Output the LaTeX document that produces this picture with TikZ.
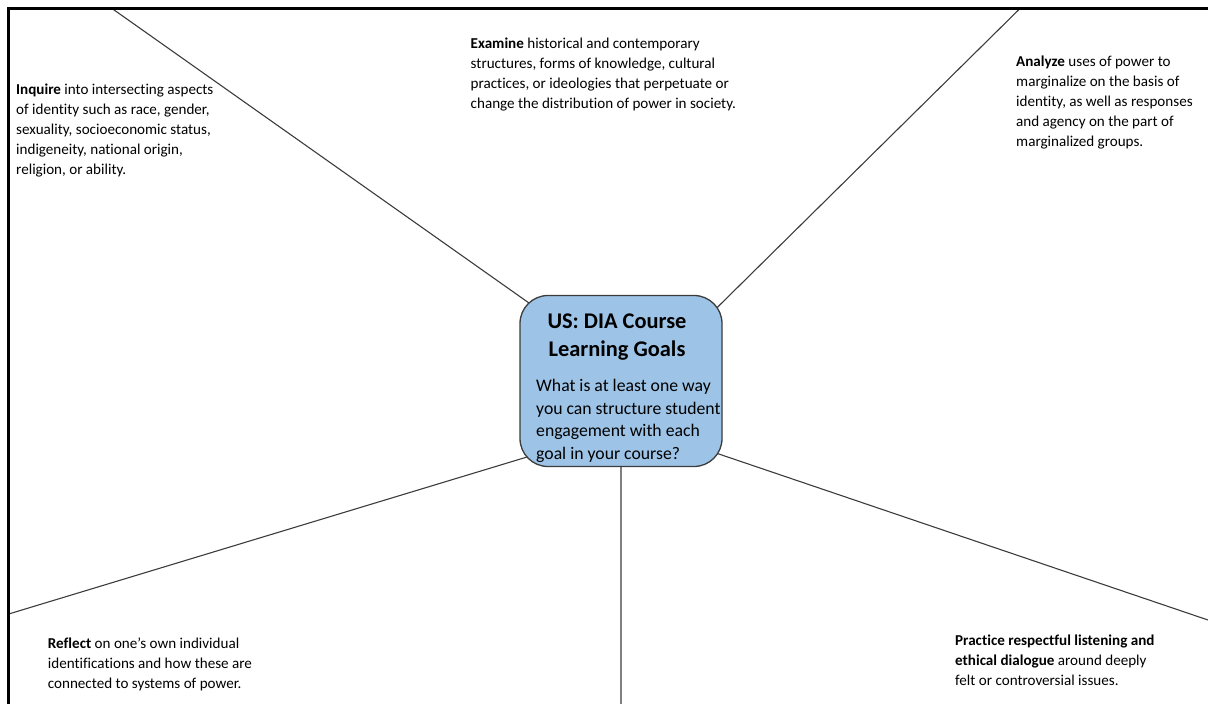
\documentclass[tikz,border=0pt]{standalone}
\usepackage{fontspec}
\setmainfont[Ligatures=NoCommon]{Carlito}
\usetikzlibrary{calc,backgrounds}
\definecolor{hubblue}{HTML}{9DC3E6}
\definecolor{spokegray}{HTML}{3C3C3C}
\definecolor{spokelight}{HTML}{808080}
\begin{document}
\begin{tikzpicture}[x=1pt,y=-1pt,
  goal/.style={align=left, inner sep=0pt, anchor=north west,
    font=\fontsize{15.1}{20}\selectfont},
  hubbox/.style={draw=spokegray, line width=1.3pt, fill=hubblue,
    rounded corners=28pt, minimum width=202pt, minimum height=171pt, inner sep=0pt},
  hubtitle/.style={align=center, inner sep=0pt, anchor=north,
    font=\fontsize{22.4}{28.8}\selectfont\bfseries},
  hubtext/.style={align=left, inner sep=0pt, anchor=north west,
    font=\fontsize{17.7}{22.5}\selectfont},
  spoke/.style={draw=spokegray, line width=1.1pt},
  spokeb/.style={draw=spokelight, line width=1.6pt},
  frameline/.style={draw=black, line width=3pt}
]
\useasboundingbox (0,0) rectangle (1208,704);
\draw[frameline] (1208,8.5) -- (8.5,8.5) -- (8.5,704);

% hub
\node[hubbox] (hub) at (621,381) {};
\node[hubtitle] (title) at (617,307.8) {\strut US: DIA Course\\Learning Goals};
\node[hubtext] (question) at (536,375.7) {\strut What is at least one way\\you can structure student\\engagement with each\\goal in your course?};

% free ends of the spokes
\coordinate (c1) at (112,8.5);
\coordinate (c2) at (1020,8.5);
\coordinate (c3) at (10,613.6);
\coordinate (c4) at (621,704);
\coordinate (c5) at (1208,620);

\begin{pgfonlayer}{background}
  \draw[spoke] (c1) -- ($(hub.north west)+(25,19)$);
  \draw[spoke] (c2) -- ($(hub.north east)+(-22,29)$);
  \draw[spoke] (c3) -- ($(hub.south west)+(27,-16)$);
  \draw[spokeb] (c4) -- (hub.south -| c4);
  \draw[spoke] (c5) -- ($(hub.south east)+(-24,-20)$);
\end{pgfonlayer}

% goals
\node[goal] (inquire) at (16,79.8) {\strut\textbf{Inquire} into intersecting aspects\\of identity such as race, gender,\\sexuality, socioeconomic status,\\indigeneity, national origin,\\religion, or ability.};
\node[goal] (examine) at (470.5,34.3) {\strut\textbf{Examine} historical and contemporary\\structures, forms of knowledge, cultural\\practices, or ideologies that perpetuate or\\change the distribution of power in society.};
\node[goal] (analyze) at (1016,52) {\strut\textbf{Analyze} uses of power to\\marginalize on the basis of\\identity, as well as responses\\and agency on the part of\\marginalized groups.};
\node[goal] (reflect) at (47.7,634.3) {\strut\textbf{Reflect} on one’s own individual\\identifications and how these are\\connected to systems of power.};
\node[goal] (practice) at (955,631) {\strut\textbf{Practice respectful listening and}\\\textbf{ethical dialogue} around deeply\\felt or controversial issues.};
\end{tikzpicture}
\end{document}
